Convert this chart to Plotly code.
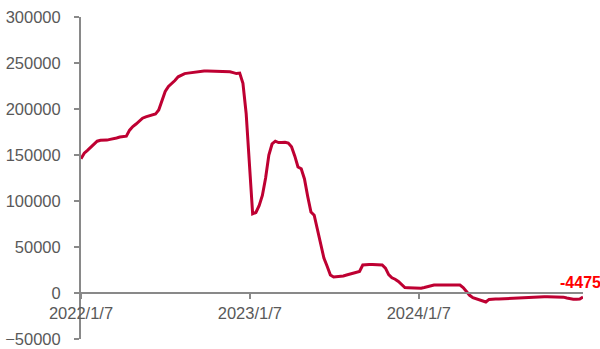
import pandas as pd
import plotly.graph_objects as go

# Weekly series, Fridays from 2022-01-07
start_date = "2022-01-07"
n_weeks = 156
values = [
    146000, 152000, 155000, 158500, 162000, 165000, 166000, 165800, 166200, 167000,
    167500, 168500, 169500, 170000, 170500, 177000, 181000, 183700, 187000, 190000,
    191500, 192400, 193000, 194500, 199000, 208000, 219000, 224500, 227500, 231000,
    235000, 236500, 238500, 239000, 239500, 240500, 241000, 241300, 241300, 241300,
    241300, 241300, 241300, 241300, 241300, 241300, 240500, 239500, 238500, 239000,
    228000, 195000, 140000, 86000, 87500, 95000, 106000, 125000, 150000, 162000,
    165000, 163500, 163500, 163800, 163000, 159000, 149000, 137000, 135000, 124000,
    105000, 88000, 84500, 70000, 53000, 38000, 29000, 19500, 17400, 17500,
    17600, 18500, 19500, 20500, 21700, 22000, 23500, 30400, 31000, 31000,
    31000, 31000, 31000, 30500, 27000, 20000, 16500, 15000, 12500, 9000,
    6000, 5800, 5500, 5000, 5000, 5200, 6000, 6800, 8000, 8700,
    8700, 8700, 8700, 8700, 8700, 8700, 8700, 8700, 6000, 1500,
    -2500, -5000, -6000, -7000, -8500, -9800, -7000, -6500, -6500, -6500,
    -6300, -6200, -6000, -5800, -5500, -5000, -4800, -4500, -4300, -4000,
    -4000, -4000, -4000, -4000, -4000, -4000, -4000, -4000, -4000, -4500,
    -5500, -6500, -6800, -6800, -6500, -4475,
]
dates = pd.date_range(start_date, periods=n_weeks, freq="7D")

y_range = [-50000, 300000]
y_dtick = 50000
last_label = "-4475"

line_color = "#BE0032"
axis_color = "#898989"
tick_font = dict(family="Liberation Sans, Arial, sans-serif", size=16.5, color="#595959")

fig = go.Figure()
fig.add_trace(go.Scatter(
    x=dates, y=values, mode="lines",
    line=dict(color=line_color, width=3),
    hoverinfo="skip", showlegend=False,
))

fig.add_annotation(
    x=dates[-1], y=values[-1], text=f"<b>{last_label}</b>",
    showarrow=False, xanchor="center", yanchor="bottom",
    xshift=-3, yshift=4,
    font=dict(family="Liberation Sans, Arial, sans-serif", size=16, color="#FF0000"),
)

zero_pos = (0 - y_range[0]) / (y_range[1] - y_range[0])

fig.update_layout(
    width=600, height=349,
    margin=dict(l=81, r=17, t=17, b=10, autoexpand=False),
    paper_bgcolor="white", plot_bgcolor="white",
    xaxis=dict(
        range=[dates[0], dates[-1]],
        anchor="free", position=zero_pos, automargin=False,
        tick0=start_date, dtick="M12", tickformat="%Y/%-m/%-d",
        showline=True, linecolor=axis_color, linewidth=2,
        ticks="outside", ticklen=5, tickwidth=2, tickcolor=axis_color,
        showgrid=False, zeroline=False, tickfont=tick_font,
    ),
    yaxis=dict(
        range=y_range, dtick=y_dtick, tickformat="d", automargin=False,
        showline=True, linecolor=axis_color, linewidth=2,
        ticks="outside", ticklen=5, tickwidth=2, tickcolor=axis_color,
        ticklabelstandoff=10,
        showgrid=False, zeroline=False, tickfont=tick_font,
    ),
)

fig.write_html("out.html")
